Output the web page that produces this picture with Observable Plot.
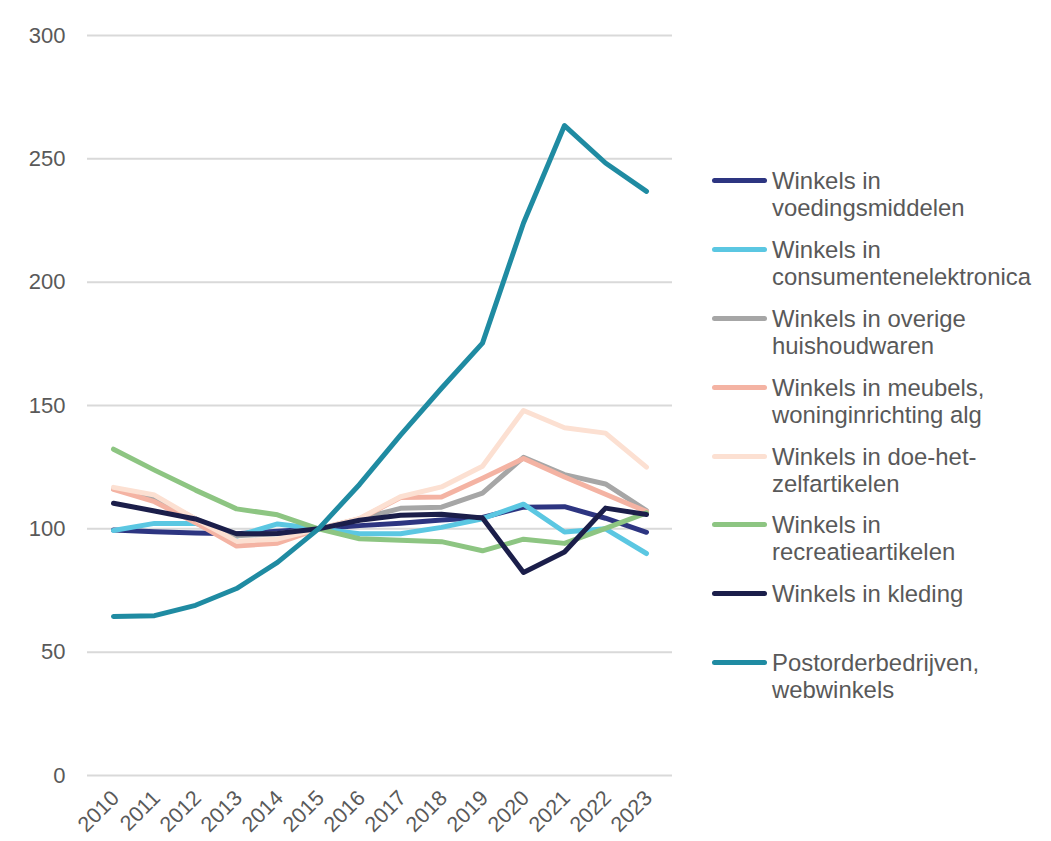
<!DOCTYPE html>
<html>
<head>
<meta charset="utf-8">
<script src="https://cdn.jsdelivr.net/npm/d3@7"></script>
<script src="https://cdn.jsdelivr.net/npm/@observablehq/plot@0.6"></script>
<style>
  html, body { margin: 0; padding: 0; background: #fff; }
  #wrap { position: relative; width: 1051px; height: 841px; overflow: hidden; font-family: "Liberation Sans", Arial, sans-serif; }
  #legend { position: absolute; left: 712px; top: 167px; }
  .item { position: relative; height: 68.9px; }
  .sw { position: absolute; left: 0; top: 11px; width: 55px; height: 5px; border-radius: 3px; }
  .lb { position: absolute; left: 60px; top: 0; font-size: 23.9px; line-height: 27px; color: #595959; white-space: nowrap; }
</style>
</head>
<body>
<div id="wrap">
  <div id="chart"></div>
  <div id="legend"></div>
</div>
<script>
const years = ["2010","2011","2012","2013","2014","2015","2016","2017","2018","2019","2020","2021","2022","2023"];

const seriesNames = [
  "Winkels in voedingsmiddelen",
  "Winkels in consumentenelektronica",
  "Winkels in overige huishoudwaren",
  "Winkels in meubels, woninginrichting alg",
  "Winkels in doe-het-zelfartikelen",
  "Winkels in recreatieartikelen",
  "Winkels in kleding",
  "Postorderbedrijven, webwinkels"
];

const legendLines = [
  ["Winkels in", "voedingsmiddelen"],
  ["Winkels in", "consumentenelektronica"],
  ["Winkels in overige", "huishoudwaren"],
  ["Winkels in meubels,", "woninginrichting alg"],
  ["Winkels in doe-het-", "zelfartikelen"],
  ["Winkels in", "recreatieartikelen"],
  ["Winkels in kleding"],
  ["Postorderbedrijven,", "webwinkels"]
];

const voedingsmiddelen      = [99.5, 98.8, 98.3, 98.0, 99.0, 100, 101.3, 102.3, 103.6, 104.6, 108.8, 109.0, 104.3, 98.6];
const consumentenelektronica = [99.3, 102.2, 102.2, 97.0, 102.0, 100, 98.0, 98.0, 100.6, 104.1, 110.0, 98.7, 100.0, 90.0];
const overigeHuishoudwaren  = [116.2, 112.8, 104.0, 97.2, 98.0, 100, 104.0, 108.3, 108.8, 114.5, 129.0, 122.0, 118.2, 107.4];
const meubels               = [116.0, 111.0, 102.5, 93.0, 94.2, 100, 104.0, 112.7, 112.9, 120.5, 128.5, 121.0, 114.0, 107.0];
const doeHetZelf            = [116.8, 113.7, 104.0, 95.0, 95.8, 100, 104.2, 113.0, 117.0, 125.4, 148.0, 141.0, 138.8, 125.0];
const recreatieartikelen    = [132.3, 123.8, 115.7, 108.1, 105.7, 100, 96.0, 95.4, 94.8, 91.1, 95.8, 94.1, 100.2, 106.5];
const kleding               = [110.4, 107.2, 104.0, 98.0, 98.1, 100, 103.5, 105.5, 105.9, 104.4, 82.3, 90.6, 108.4, 105.8];
const postorder             = [64.5, 64.8, 69.0, 75.8, 86.4, 100, 118.0, 138.0, 157.0, 175.3, 224.0, 263.5, 248.3, 236.8];

const seriesValues = [voedingsmiddelen, consumentenelektronica, overigeHuishoudwaren, meubels, doeHetZelf, recreatieartikelen, kleding, postorder];

const colors = ["#2D3581", "#5BC7E2", "#A6A6A6", "#F4B3A3", "#FCE0D2", "#8DC582", "#1B1E4A", "#1F8BA2"];

const yTicks = [0, 50, 100, 150, 200, 250, 300];

const data = [];
seriesNames.forEach((name, s) => {
  years.forEach((yr, i) => data.push({ year: yr, value: seriesValues[s][i], series: name }));
});

const chart = Plot.plot({
  width: 1051,
  height: 841,
  marginLeft: 87,
  marginRight: 379,
  marginTop: 35,
  marginBottom: 66,
  style: { fontFamily: "'Liberation Sans', Arial, sans-serif", fontSize: "22px", color: "#595959", background: "transparent" },
  x: { type: "point", domain: years, padding: 0.5, label: null },
  y: { domain: [0, 300], label: null },
  color: { domain: seriesNames, range: colors },
  marks: [
    Plot.gridY(yTicks, { stroke: "#d9d9d9", strokeOpacity: 1, strokeWidth: 2 }),
    Plot.axisY(yTicks, { tickSize: 0, tickPadding: 22, label: null, fontSize: 22 }),
    Plot.axisX(years, { tickSize: 0, tickRotate: -45, tickPadding: 19, dx: 2, label: null, fontSize: 21.5 }),
    Plot.lineY(data, { x: "year", y: "value", z: "series", stroke: "series", strokeWidth: 5, strokeLinecap: "round", strokeLinejoin: "round" })
  ]
});
document.getElementById("chart").appendChild(chart);

const legend = document.getElementById("legend");
seriesNames.forEach((name, i) => {
  const item = document.createElement("div");
  item.className = "item";
  const sw = document.createElement("div");
  sw.className = "sw";
  sw.style.background = colors[i];
  const lb = document.createElement("div");
  lb.className = "lb";
  lb.innerHTML = legendLines[i].join("<br>");
  item.appendChild(sw);
  item.appendChild(lb);
  legend.appendChild(item);
});
</script>
</body>
</html>
